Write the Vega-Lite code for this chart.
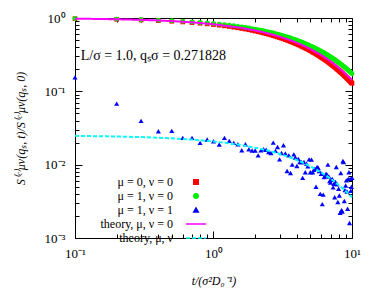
{
  "$schema": "https://vega.github.io/schema/vega-lite/v6.json",
  "width": 277,
  "height": 220,
  "autosize": {"type": "none"},
  "padding": {"left": 75, "top": 18, "right": 28, "bottom": 52},
  "background": "white",
  "config": {"view": {"stroke": "black", "strokeWidth": 1}, "font": "Liberation Serif"},
  "datasets": {
    "pts": [
      {"s":"r","t":0.1,"v":0.980},{"s":"r","t":0.2,"v":0.960},{"s":"r","t":0.3,"v":0.940},{"s":"r","t":0.4,"v":0.921},{"s":"r","t":0.5,"v":0.903},{"s":"r","t":0.6,"v":0.884},{"s":"r","t":0.7,"v":0.866},{"s":"r","t":0.8,"v":0.849},{"s":"r","t":0.9,"v":0.832},{"s":"r","t":1.0,"v":0.815},
      {"s":"r","t":1.1,"v":0.798},{"s":"r","t":1.2,"v":0.782},{"s":"r","t":1.3,"v":0.766},{"s":"r","t":1.4,"v":0.751},{"s":"r","t":1.5,"v":0.735},{"s":"r","t":1.6,"v":0.720},{"s":"r","t":1.7,"v":0.706},{"s":"r","t":1.8,"v":0.692},{"s":"r","t":1.9,"v":0.677},{"s":"r","t":2.0,"v":0.664},
      {"s":"r","t":2.1,"v":0.650},{"s":"r","t":2.2,"v":0.637},{"s":"r","t":2.3,"v":0.624},{"s":"r","t":2.4,"v":0.611},{"s":"r","t":2.5,"v":0.599},{"s":"r","t":2.6,"v":0.587},{"s":"r","t":2.7,"v":0.575},{"s":"r","t":2.8,"v":0.563},{"s":"r","t":2.9,"v":0.552},{"s":"r","t":3.0,"v":0.541},
      {"s":"r","t":3.1,"v":0.530},{"s":"r","t":3.2,"v":0.519},{"s":"r","t":3.3,"v":0.508},{"s":"r","t":3.4,"v":0.498},{"s":"r","t":3.5,"v":0.488},{"s":"r","t":3.6,"v":0.478},{"s":"r","t":3.7,"v":0.468},{"s":"r","t":3.8,"v":0.459},{"s":"r","t":3.9,"v":0.450},{"s":"r","t":4.0,"v":0.440},
      {"s":"r","t":4.1,"v":0.432},{"s":"r","t":4.2,"v":0.423},{"s":"r","t":4.3,"v":0.414},{"s":"r","t":4.4,"v":0.406},{"s":"r","t":4.5,"v":0.398},{"s":"r","t":4.6,"v":0.390},{"s":"r","t":4.7,"v":0.382},{"s":"r","t":4.8,"v":0.374},{"s":"r","t":4.9,"v":0.366},{"s":"r","t":5.0,"v":0.359},
      {"s":"r","t":5.1,"v":0.352},{"s":"r","t":5.2,"v":0.344},{"s":"r","t":5.3,"v":0.337},{"s":"r","t":5.4,"v":0.331},{"s":"r","t":5.5,"v":0.324},{"s":"r","t":5.6,"v":0.317},{"s":"r","t":5.7,"v":0.311},{"s":"r","t":5.8,"v":0.305},{"s":"r","t":5.9,"v":0.298},{"s":"r","t":6.0,"v":0.292},
      {"s":"r","t":6.1,"v":0.286},{"s":"r","t":6.2,"v":0.281},{"s":"r","t":6.3,"v":0.275},{"s":"r","t":6.4,"v":0.269},{"s":"r","t":6.5,"v":0.264},{"s":"r","t":6.6,"v":0.259},{"s":"r","t":6.7,"v":0.253},{"s":"r","t":6.8,"v":0.248},{"s":"r","t":6.9,"v":0.243},{"s":"r","t":7.0,"v":0.238},
      {"s":"r","t":7.1,"v":0.233},{"s":"r","t":7.2,"v":0.229},{"s":"r","t":7.3,"v":0.224},{"s":"r","t":7.4,"v":0.219},{"s":"r","t":7.5,"v":0.215},{"s":"r","t":7.6,"v":0.211},{"s":"r","t":7.7,"v":0.206},{"s":"r","t":7.8,"v":0.202},{"s":"r","t":7.9,"v":0.198},{"s":"r","t":8.0,"v":0.194},
      {"s":"r","t":8.1,"v":0.190},{"s":"r","t":8.2,"v":0.186},{"s":"r","t":8.3,"v":0.182},{"s":"r","t":8.4,"v":0.179},{"s":"r","t":8.5,"v":0.175},{"s":"r","t":8.6,"v":0.172},{"s":"r","t":8.7,"v":0.168},{"s":"r","t":8.8,"v":0.165},{"s":"r","t":8.9,"v":0.161},{"s":"r","t":9.0,"v":0.158},
      {"s":"r","t":9.1,"v":0.155},{"s":"r","t":9.2,"v":0.152},{"s":"r","t":9.3,"v":0.149},{"s":"r","t":9.4,"v":0.146},{"s":"r","t":9.5,"v":0.143},{"s":"r","t":9.6,"v":0.140},{"s":"r","t":9.7,"v":0.137},{"s":"r","t":9.8,"v":0.134},{"s":"r","t":9.9,"v":0.131},{"s":"r","t":10.0,"v":0.129},
      {"s":"g","t":0.1,"v":0.983},{"s":"g","t":0.2,"v":0.966},{"s":"g","t":0.3,"v":0.949},{"s":"g","t":0.4,"v":0.932},{"s":"g","t":0.5,"v":0.916},{"s":"g","t":0.6,"v":0.900},{"s":"g","t":0.7,"v":0.885},{"s":"g","t":0.8,"v":0.869},{"s":"g","t":0.9,"v":0.854},{"s":"g","t":1.0,"v":0.840},
      {"s":"g","t":1.1,"v":0.825},{"s":"g","t":1.2,"v":0.811},{"s":"g","t":1.3,"v":0.797},{"s":"g","t":1.4,"v":0.783},{"s":"g","t":1.5,"v":0.769},{"s":"g","t":1.6,"v":0.756},{"s":"g","t":1.7,"v":0.743},{"s":"g","t":1.8,"v":0.730},{"s":"g","t":1.9,"v":0.717},{"s":"g","t":2.0,"v":0.705},
      {"s":"g","t":2.1,"v":0.693},{"s":"g","t":2.2,"v":0.681},{"s":"g","t":2.3,"v":0.669},{"s":"g","t":2.4,"v":0.657},{"s":"g","t":2.5,"v":0.646},{"s":"g","t":2.6,"v":0.634},{"s":"g","t":2.7,"v":0.623},{"s":"g","t":2.8,"v":0.613},{"s":"g","t":2.9,"v":0.602},{"s":"g","t":3.0,"v":0.592},
      {"s":"g","t":3.1,"v":0.581},{"s":"g","t":3.2,"v":0.571},{"s":"g","t":3.3,"v":0.561},{"s":"g","t":3.4,"v":0.552},{"s":"g","t":3.5,"v":0.542},{"s":"g","t":3.6,"v":0.533},{"s":"g","t":3.7,"v":0.523},{"s":"g","t":3.8,"v":0.514},{"s":"g","t":3.9,"v":0.505},{"s":"g","t":4.0,"v":0.497},
      {"s":"g","t":4.1,"v":0.488},{"s":"g","t":4.2,"v":0.480},{"s":"g","t":4.3,"v":0.471},{"s":"g","t":4.4,"v":0.463},{"s":"g","t":4.5,"v":0.455},{"s":"g","t":4.6,"v":0.447},{"s":"g","t":4.7,"v":0.439},{"s":"g","t":4.8,"v":0.432},{"s":"g","t":4.9,"v":0.424},{"s":"g","t":5.0,"v":0.417},
      {"s":"g","t":5.1,"v":0.410},{"s":"g","t":5.2,"v":0.403},{"s":"g","t":5.3,"v":0.396},{"s":"g","t":5.4,"v":0.389},{"s":"g","t":5.5,"v":0.382},{"s":"g","t":5.6,"v":0.375},{"s":"g","t":5.7,"v":0.369},{"s":"g","t":5.8,"v":0.362},{"s":"g","t":5.9,"v":0.356},{"s":"g","t":6.0,"v":0.350},
      {"s":"g","t":6.1,"v":0.344},{"s":"g","t":6.2,"v":0.338},{"s":"g","t":6.3,"v":0.332},{"s":"g","t":6.4,"v":0.326},{"s":"g","t":6.5,"v":0.321},{"s":"g","t":6.6,"v":0.315},{"s":"g","t":6.7,"v":0.310},{"s":"g","t":6.8,"v":0.304},{"s":"g","t":6.9,"v":0.299},{"s":"g","t":7.0,"v":0.294},
      {"s":"g","t":7.1,"v":0.289},{"s":"g","t":7.2,"v":0.284},{"s":"g","t":7.3,"v":0.279},{"s":"g","t":7.4,"v":0.274},{"s":"g","t":7.5,"v":0.269},{"s":"g","t":7.6,"v":0.265},{"s":"g","t":7.7,"v":0.260},{"s":"g","t":7.8,"v":0.255},{"s":"g","t":7.9,"v":0.251},{"s":"g","t":8.0,"v":0.247},
      {"s":"g","t":8.1,"v":0.242},{"s":"g","t":8.2,"v":0.238},{"s":"g","t":8.3,"v":0.234},{"s":"g","t":8.4,"v":0.230},{"s":"g","t":8.5,"v":0.226},{"s":"g","t":8.6,"v":0.222},{"s":"g","t":8.7,"v":0.218},{"s":"g","t":8.8,"v":0.214},{"s":"g","t":8.9,"v":0.211},{"s":"g","t":9.0,"v":0.207},
      {"s":"g","t":9.1,"v":0.203},{"s":"g","t":9.2,"v":0.200},{"s":"g","t":9.3,"v":0.196},{"s":"g","t":9.4,"v":0.193},{"s":"g","t":9.5,"v":0.190},{"s":"g","t":9.6,"v":0.186},{"s":"g","t":9.7,"v":0.183},{"s":"g","t":9.8,"v":0.180},{"s":"g","t":9.9,"v":0.177},{"s":"g","t":10.0,"v":0.174},
      {"s":"b","t":0.1,"v":0.155},{"s":"b","t":0.2,"v":0.068},{"s":"b","t":0.3,"v":0.0396},{"s":"b","t":0.4,"v":0.0286},{"s":"b","t":0.5,"v":0.0289},{"s":"b","t":0.6,"v":0.0232},{"s":"b","t":0.7,"v":0.0232},{"s":"b","t":0.8,"v":0.0198},{"s":"b","t":0.9,"v":0.022},{"s":"b","t":1.0,"v":0.0209},
      {"s":"b","t":1.1,"v":0.0188},{"s":"b","t":1.2,"v":0.0232},{"s":"b","t":1.3,"v":0.0211},{"s":"b","t":1.4,"v":0.0198},{"s":"b","t":1.5,"v":0.019},{"s":"b","t":1.6,"v":0.0157},{"s":"b","t":1.7,"v":0.019},{"s":"b","t":1.8,"v":0.0162},{"s":"b","t":1.9,"v":0.0156},{"s":"b","t":2.0,"v":0.0156},
      {"s":"b","t":2.1,"v":0.0134},{"s":"b","t":2.2,"v":0.0157},{"s":"b","t":2.3,"v":0.0162},{"s":"b","t":2.4,"v":0.016},{"s":"b","t":2.5,"v":0.0149},{"s":"b","t":2.6,"v":0.0144},{"s":"b","t":2.7,"v":0.020},{"s":"b","t":2.8,"v":0.0154},{"s":"b","t":2.9,"v":0.0174},{"s":"b","t":3.0,"v":0.0118},
      {"s":"b","t":3.1,"v":0.0144},{"s":"b","t":3.2,"v":0.0184},{"s":"b","t":3.3,"v":0.0142},{"s":"b","t":3.4,"v":0.0082},{"s":"b","t":3.5,"v":0.0134},{"s":"b","t":3.6,"v":0.0077},{"s":"b","t":3.7,"v":0.010},{"s":"b","t":3.8,"v":0.0138},{"s":"b","t":3.9,"v":0.0125},{"s":"b","t":4.0,"v":0.0096},
      {"s":"b","t":4.1,"v":0.0120},{"s":"b","t":4.2,"v":0.0109},{"s":"b","t":4.3,"v":0.0109},{"s":"b","t":4.4,"v":0.0066},{"s":"b","t":4.5,"v":0.0109},{"s":"b","t":4.6,"v":0.0079},{"s":"b","t":4.7,"v":0.0103},{"s":"b","t":4.8,"v":0.0095},{"s":"b","t":4.9,"v":0.0118},{"s":"b","t":5.0,"v":0.0079},
      {"s":"b","t":5.1,"v":0.0117},{"s":"b","t":5.2,"v":0.0079},{"s":"b","t":5.3,"v":0.0085},{"s":"b","t":5.4,"v":0.0088},{"s":"b","t":5.5,"v":0.005},{"s":"b","t":5.6,"v":0.0093},{"s":"b","t":5.7,"v":0.0091},{"s":"b","t":5.8,"v":0.0082},{"s":"b","t":5.9,"v":0.004},{"s":"b","t":6.0,"v":0.0075},
      {"s":"b","t":6.1,"v":0.0029},{"s":"b","t":6.2,"v":0.0039},{"s":"b","t":6.3,"v":0.0068},{"s":"b","t":6.4,"v":0.0071},{"s":"b","t":6.5,"v":0.0075},{"s":"b","t":6.6,"v":0.0073},{"s":"b","t":6.7,"v":0.0100},{"s":"b","t":6.8,"v":0.0069},{"s":"b","t":6.9,"v":0.0060},{"s":"b","t":7.0,"v":0.0057},
      {"s":"b","t":7.1,"v":0.0062},{"s":"b","t":7.2,"v":0.0064},{"s":"b","t":7.3,"v":0.0049},{"s":"b","t":7.4,"v":0.0055},{"s":"b","t":7.5,"v":0.0036},{"s":"b","t":7.6,"v":0.0058},{"s":"b","t":7.7,"v":0.0093},{"s":"b","t":7.8,"v":0.0054},{"s":"b","t":7.9,"v":0.0031},{"s":"b","t":8.0,"v":0.0047},
      {"s":"b","t":8.1,"v":0.0038},{"s":"b","t":8.2,"v":0.0022},{"s":"b","t":8.3,"v":0.0077},{"s":"b","t":8.4,"v":0.0024},{"s":"b","t":8.5,"v":0.0023},{"s":"b","t":8.6,"v":0.0112},{"s":"b","t":8.7,"v":0.0109},{"s":"b","t":8.8,"v":0.0032},{"s":"b","t":8.9,"v":0.0045},{"s":"b","t":9.0,"v":0.0052},
      {"s":"b","t":9.1,"v":0.0061},{"s":"b","t":9.2,"v":0.0043},{"s":"b","t":9.3,"v":0.0025},{"s":"b","t":9.4,"v":0.0064},{"s":"b","t":9.5,"v":0.0079},{"s":"b","t":9.6,"v":0.0016},{"s":"b","t":9.7,"v":0.0064},{"s":"b","t":9.8,"v":0.0044},{"s":"b","t":9.9,"v":0.0050},{"s":"b","t":10.0,"v":0.0066}
    ],
    "theory": [
      {"s":"m","t":0.1,"v":0.9807},{"s":"m","t":0.2,"v":0.9617},{"s":"m","t":0.3,"v":0.9432},{"s":"m","t":0.4,"v":0.9249},{"s":"m","t":0.5,"v":0.9070},{"s":"m","t":0.7,"v":0.8724},{"s":"m","t":1.0,"v":0.8228},{"s":"m","t":1.5,"v":0.7464},{"s":"m","t":2.0,"v":0.6771},{"s":"m","t":2.5,"v":0.6142},{"s":"m","t":3.0,"v":0.5571},{"s":"m","t":3.5,"v":0.5054},{"s":"m","t":4.0,"v":0.4584},{"s":"m","t":4.5,"v":0.4159},{"s":"m","t":5.0,"v":0.3772},{"s":"m","t":5.5,"v":0.3422},{"s":"m","t":6.0,"v":0.3104},{"s":"m","t":6.5,"v":0.2816},{"s":"m","t":7.0,"v":0.2554},{"s":"m","t":7.5,"v":0.2317},{"s":"m","t":8.0,"v":0.2101},{"s":"m","t":8.5,"v":0.1906},{"s":"m","t":9.0,"v":0.1729},{"s":"m","t":9.5,"v":0.1569},{"s":"m","t":10.0,"v":0.1423},
      {"s":"c","t":0.1,"v":0.02471},{"s":"c","t":0.2,"v":0.02423},{"s":"c","t":0.3,"v":0.02377},{"s":"c","t":0.4,"v":0.02331},{"s":"c","t":0.5,"v":0.02286},{"s":"c","t":0.7,"v":0.02198},{"s":"c","t":1.0,"v":0.02073},{"s":"c","t":1.5,"v":0.01881},{"s":"c","t":2.0,"v":0.01706},{"s":"c","t":2.5,"v":0.01548},{"s":"c","t":3.0,"v":0.01404},{"s":"c","t":3.5,"v":0.01274},{"s":"c","t":4.0,"v":0.01155},{"s":"c","t":4.5,"v":0.01048},{"s":"c","t":5.0,"v":0.00951},{"s":"c","t":5.5,"v":0.00862},{"s":"c","t":6.0,"v":0.00782},{"s":"c","t":6.5,"v":0.00710},{"s":"c","t":7.0,"v":0.00644},{"s":"c","t":7.5,"v":0.00584},{"s":"c","t":8.0,"v":0.00529},{"s":"c","t":8.5,"v":0.00480},{"s":"c","t":9.0,"v":0.00436},{"s":"c","t":9.5,"v":0.00395},{"s":"c","t":10.0,"v":0.00359}
    ]
  },
  "resolve": {"axis": {"x": "independent", "y": "independent"}},
  "layer": [
    {
      "data": {"name": "pts"},
      "mark": {"type": "point", "filled": true, "opacity": 1, "clip": false},
      "encoding": {
        "x": {"field": "t", "type": "quantitative",
          "scale": {"type": "log", "domain": [0.1, 10], "nice": false},
          "axis": {"orient": "bottom", "values": [0.1,0.2,0.3,0.4,0.5,0.6,0.7,0.8,0.9,1,2,3,4,5,6,7,8,9,10],
            "labelExpr": "datum.value == 0.1 ? '10⁻¹' : datum.value == 1 ? '10⁰' : datum.value == 10 ? '10¹' : ''",
            "tickSize": {"condition": {"test": "datum.value == 0.1 || datum.value == 1 || datum.value == 10", "value": -7}, "value": -4},
            "tickColor": "black", "domain": false, "grid": false, "labelOverlap": false, "labelFlush": false,
            "labelFont": "Liberation Serif", "labelFontSize": 13, "labelColor": "black", "labelPadding": 16,
            "title": "t/(σ²D₀⁻¹)", "titleFont": "Liberation Serif", "titleFontSize": 12, "titleFontWeight": "normal", "titleFontStyle": "italic", "titleColor": "black", "titlePadding": 12}},
        "y": {"field": "v", "type": "quantitative",
          "scale": {"type": "log", "domain": [0.001, 1], "nice": false},
          "axis": {"orient": "left", "values": [0.001,0.002,0.003,0.004,0.005,0.006,0.007,0.008,0.009,0.01,0.02,0.03,0.04,0.05,0.06,0.07,0.08,0.09,0.1,0.2,0.3,0.4,0.5,0.6,0.7,0.8,0.9,1],
            "labelExpr": "datum.value == 0.001 ? '10⁻³' : datum.value == 0.01 ? '10⁻²' : datum.value == 0.1 ? '10⁻¹' : datum.value == 1 ? '10⁰' : ''",
            "tickSize": {"condition": {"test": "datum.value == 0.001 || datum.value == 0.01 || datum.value == 0.1 || datum.value == 1", "value": -7}, "value": -4},
            "tickColor": "black", "domain": false, "grid": false, "labelOverlap": false, "labelFlush": false,
            "labelFont": "Liberation Serif", "labelFontSize": 13, "labelColor": "black", "labelPadding": 17,
            "title": "S⁽ᶜ⁾μν(qₛ, t)/S⁽ᶜ⁾μν(qₛ, 0)", "titleFont": "Liberation Serif", "titleFontSize": 12, "titleFontWeight": "normal", "titleFontStyle": "italic", "titleColor": "black", "titlePadding": 17}},
        "color": {"field": "s", "type": "nominal",
          "scale": {"domain": ["r","g","b","m","c"], "range": ["#ff0000","#00ee00","#0000ff","#ff00ff","#00ffff"]},
          "legend": {"orient": "none", "legendX": 115, "legendY": 158, "title": null,
            "labelExpr": "datum.value == 'r' ? 'μ = 0, ν = 0' : datum.value == 'g' ? 'μ = 1, ν = 0' : datum.value == 'b' ? 'μ = 1, ν = 1' : datum.value == 'm' ? 'theory, μ, ν = 0' : 'theory, μ, ν'",
            "labelAlign": "right", "labelOffset": -29, "labelFont": "Liberation Serif", "labelFontSize": 12, "labelColor": "black",
            "symbolSize": 20, "rowPadding": 2, "symbolStrokeWidth": 1.5, "symbolOpacity": 1,
            "encode": {"symbols": {"update": {
              "shape": {"scale": "shape", "field": "value"},
              "strokeDash": {"scale": "strokeDash", "field": "value"},
              "fill": {"scale": "color", "field": "value"},
              "stroke": {"scale": "color", "field": "value"},
              "strokeWidth": {"value": 1.5}}}}}},
        "shape": {"field": "s", "type": "nominal",
          "scale": {"domain": ["r","g","b","m","c"], "range": ["square","circle","triangle-up","M-4.5,0H4.5","M-4.5,0H4.5"]},
          "legend": null},
        "size": {"field": "s", "type": "nominal",
          "scale": {"domain": ["r","g","b"], "range": [22, 26, 24]}, "legend": null}
      }
    },
    {
      "data": {"name": "theory"},
      "mark": {"type": "line", "strokeWidth": 2},
      "encoding": {
        "x": {"field": "t", "type": "quantitative",
          "axis": {"orient": "top", "values": [0.1,0.2,0.3,0.4,0.5,0.6,0.7,0.8,0.9,1,2,3,4,5,6,7,8,9,10], "labels": false, "title": null,
            "tickSize": {"condition": {"test": "datum.value == 0.1 || datum.value == 1 || datum.value == 10", "value": -7}, "value": -4},
            "tickColor": "black", "domain": false, "grid": false}},
        "y": {"field": "v", "type": "quantitative",
          "axis": {"orient": "right", "values": [0.001,0.002,0.003,0.004,0.005,0.006,0.007,0.008,0.009,0.01,0.02,0.03,0.04,0.05,0.06,0.07,0.08,0.09,0.1,0.2,0.3,0.4,0.5,0.6,0.7,0.8,0.9,1], "labels": false, "title": null,
            "tickSize": {"condition": {"test": "datum.value == 0.001 || datum.value == 0.01 || datum.value == 0.1 || datum.value == 1", "value": -7}, "value": -4},
            "tickColor": "black", "domain": false, "grid": false}},
        "color": {"field": "s", "type": "nominal",
          "legend": {"orient": "none", "legendX": 115, "legendY": 158, "title": null,
            "labelExpr": "datum.value == 'r' ? 'μ = 0, ν = 0' : datum.value == 'g' ? 'μ = 1, ν = 0' : datum.value == 'b' ? 'μ = 1, ν = 1' : datum.value == 'm' ? 'theory, μ, ν = 0' : 'theory, μ, ν'",
            "labelAlign": "right", "labelOffset": -29, "labelFont": "Liberation Serif", "labelFontSize": 12, "labelColor": "black",
            "symbolSize": 20, "rowPadding": 2, "symbolStrokeWidth": 1.5, "symbolOpacity": 1,
            "encode": {"symbols": {"update": {
              "shape": {"scale": "shape", "field": "value"},
              "strokeDash": {"scale": "strokeDash", "field": "value"},
              "fill": {"scale": "color", "field": "value"},
              "stroke": {"scale": "color", "field": "value"},
              "strokeWidth": {"value": 1.5}}}}}},
        "strokeDash": {"field": "s", "type": "nominal",
          "scale": {"domain": ["r","g","b","m","c"], "range": [[1,0],[1,0],[1,0],[1,0],[4,2]]},
          "legend": null}
      }
    },
    {
      "data": {"values": [{"label": "L/σ = 1.0,  qₛσ = 0.271828"}]},
      "mark": {"type": "text", "align": "left", "baseline": "middle", "font": "Liberation Serif", "fontSize": 14, "color": "black"},
      "encoding": {
        "x": {"datum": 0.11, "type": "quantitative", "axis": null},
        "y": {"datum": 0.3, "type": "quantitative", "axis": null},
        "text": {"field": "label", "type": "nominal"}
      }
    }
  ]
}
